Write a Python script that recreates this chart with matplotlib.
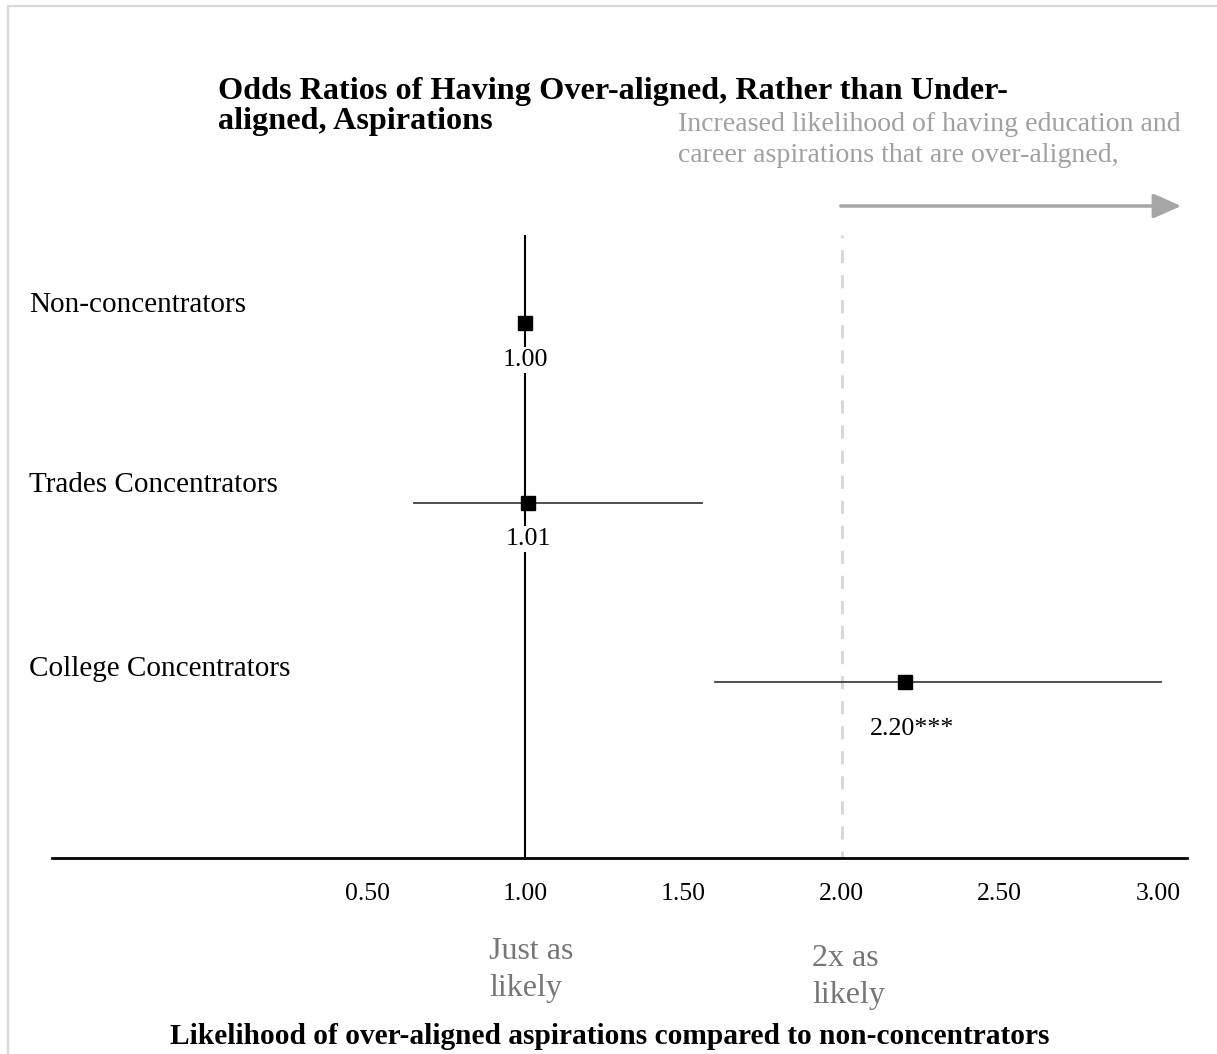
import matplotlib
matplotlib.use("Agg")
import matplotlib.pyplot as plt
from matplotlib.patches import Rectangle, FancyArrowPatch

plt.rcParams["font.family"] = ["Liberation Serif", "DejaVu Serif"]

# Odds ratios (reference group: non-concentrators) with 95% confidence limits
groups = ["Non-concentrators", "Trades Concentrators", "College Concentrators"]
odds_ratios = [1.00, 1.01, 2.20]
ci_low = [None, 0.65, 1.60]
ci_high = [None, 1.56, 3.01]
value_labels = ["1.00", "1.01", "2.20***"]
tick_values = [0.5, 1.0, 1.5, 2.0, 2.5, 3.0]
tick_labels = ["0.50", "1.00", "1.50", "2.00", "2.50", "3.00"]

W, H = 1217, 1054
fig = plt.figure(figsize=(W / 100, H / 100), dpi=100)

def fx(px):
    return px / W

def fy(py):
    return 1 - py / H

# light frame around the figure
fig.add_artist(Rectangle((fx(8), fy(H + 20)), 1.2, fy(6) - fy(H + 20),
                         transform=fig.transFigure, fill=False,
                         edgecolor="#d9d9d9", linewidth=1.6))

ax = fig.add_axes([fx(52), fy(858), fx(1187) - fx(52), fy(235) - fy(858)])
ax.set_xlim(-0.4956, 3.0917)
ax.set_ylim(0.02, 3.49)

ypos = [3, 2, 1]
label_drop = [0.205, 0.205, 0.26]
name_lift = [0.10, 0.095, 0.075]

# reference lines
ax.axvline(1.0, color="black", linewidth=1.5, zorder=1)
ax.axvline(2.0, color="#d9d9d9", linewidth=2.2, linestyle=(2.0, (4.3, 3.9)), zorder=1)

for y, orr, lo, hi, lab, drop in zip(ypos, odds_ratios, ci_low, ci_high,
                                      value_labels, label_drop):
    if lo is not None:
        ax.plot([lo, hi], [y, y], color="#404040", linewidth=1.3, zorder=2)
    ax.plot(orr, y, marker="s", color="black", markersize=10, zorder=3)
    dx = 0.022 if lab.endswith("*") else 0.0
    ax.text(orr + dx, y - drop, lab, ha="center", va="center", fontsize=18.7,
            bbox=dict(facecolor="white", edgecolor="none", pad=1.5), zorder=4)

ax.set_yticks([])
ax.set_xticks(tick_values)
ax.set_xticklabels(tick_labels, fontsize=18.5)
ax.tick_params(axis="x", length=0, pad=18)
for side in ["top", "right", "left"]:
    ax.spines[side].set_visible(False)
ax.spines["bottom"].set_linewidth(2.0)
ax.patch.set_alpha(0)

# group labels on the left
for g, y, lift in zip(groups, ypos, name_lift):
    yy = ax.transData.transform((0, y + lift))[1]
    fig.text(fx(29), yy / fig.dpi / (H / 100), g, ha="left", va="center", fontsize=21)

# title (two lines)
fig.text(fx(218), fy(91), "Odds Ratios of Having Over-aligned, Rather than Under-",
         ha="left", va="center", fontsize=23.2, fontweight="bold")
fig.text(fx(218), fy(121), "aligned, Aspirations",
         ha="left", va="center", fontsize=23.2, fontweight="bold")

# direction annotation
fig.text(fx(678), fy(140), "Increased likelihood of having education and\ncareer aspirations that are over-aligned,",
         ha="left", va="center", fontsize=20.1, color="#a0a0a0", linespacing=1.32)
fig.add_artist(FancyArrowPatch(
    (fx(838), fy(206)), (fx(1184), fy(206)), transform=fig.transFigure,
    arrowstyle="-|>,head_length=17,head_width=7.5", color="#a6a6a6",
    linewidth=2.5, mutation_scale=1))

# reference descriptions under the axis
fig.text(fx(489), fy(970), "Just as\nlikely", ha="left", va="center",
         fontsize=23, color="#767676", linespacing=1.35)
fig.text(fx(812), fy(977), "2x as\nlikely", ha="left", va="center",
         fontsize=23, color="#767676", linespacing=1.35)

# axis title
fig.text(fx(610), fy(1036), "Likelihood of over-aligned aspirations compared to non-concentrators",
         ha="center", va="center", fontsize=21.2, fontweight="bold")

fig.savefig("out.png", dpi=100)
